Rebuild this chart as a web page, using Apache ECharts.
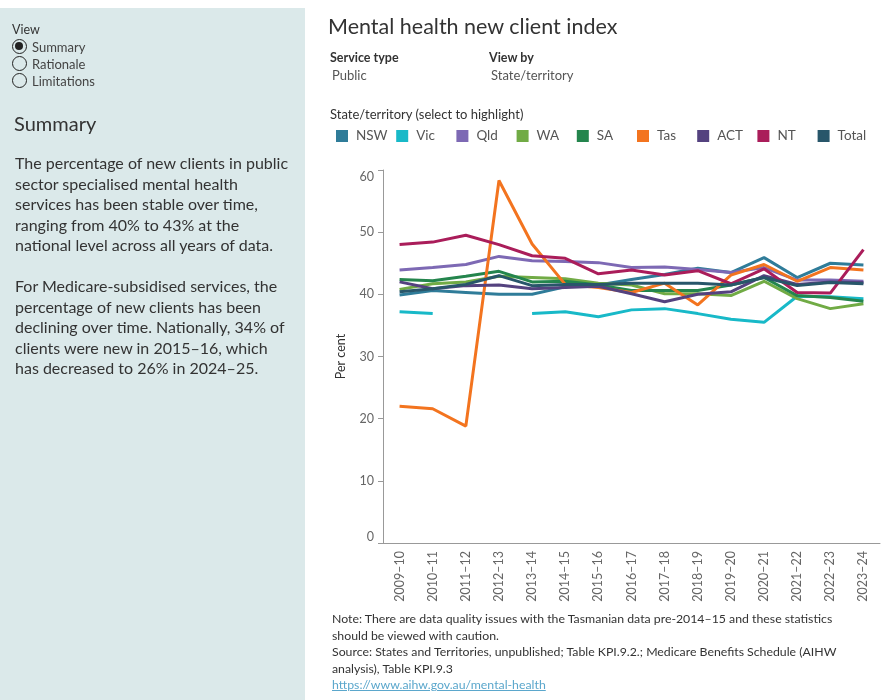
<!DOCTYPE html>
<html>
<head>
<meta charset="utf-8">
<script src="https://cdn.jsdelivr.net/npm/echarts@6/dist/echarts.min.js"></script>
<style>
  html, body { margin:0; padding:0; width:890px; height:700px; background:#fff; overflow:hidden; font-family: Lato, "Noto Sans", sans-serif; }
  #panel { position:absolute; left:0; top:8px; width:305px; height:692px; background:#DBE9EA; }
  #chart { position:absolute; left:0; top:0; width:890px; height:700px; }
  .t { position:absolute; white-space:nowrap; }
  .radio { position:absolute; left:12px; width:15px; height:15px; border:1.3px solid #222; border-radius:50%; box-sizing:border-box; }
  .radio.on::after { content:""; position:absolute; left:2.2px; top:2.2px; width:8px; height:8px; border-radius:50%; background:#222; }
  a { color:#5BA7CC; }
</style>
</head>
<body>
<div id="panel"></div>
<div id="chart"></div>

<div class="t" style="left:12px; top:22px; font-size:12.5px; color:#333;">View</div>
<div class="radio on" style="top:39px;"></div>
<div class="t" style="left:32px; top:39px; font-size:13px; color:#444;">Summary</div>
<div class="radio" style="top:56px;"></div>
<div class="t" style="left:32px; top:56px; font-size:13px; color:#444;">Rationale</div>
<div class="radio" style="top:73px;"></div>
<div class="t" style="left:32px; top:73px; font-size:13px; color:#444;">Limitations</div>
<div class="t" style="left:14px; top:111px; font-size:20px; color:#333;">Summary</div>
<div class="t" style="left:15px; top:153px; font-size:16px; line-height:20.5px; color:#333;">The percentage of new clients in public<br>sector specialised mental health<br>services has been stable over time,<br>ranging from 40% to 43% at the<br>national level across all years of data.</div>
<div class="t" style="left:15px; top:276px; font-size:16px; line-height:20.5px; color:#333;">For Medicare-subsidised services, the<br>percentage of new clients has been<br>declining over time. Nationally, 34% of<br>clients were new in 2015–16, which<br>has decreased to 26% in 2024–25.</div>

<div class="t" style="left:328px; top:13px; font-size:21.5px; color:#333;">Mental health new client index</div>
<div class="t" style="left:330px; top:50px; font-size:12.5px; font-weight:bold; color:#333;">Service type</div>
<div class="t" style="left:332px; top:67px; font-size:13px; color:#555;">Public</div>
<div class="t" style="left:489px; top:50px; font-size:12.5px; font-weight:bold; color:#333;">View by</div>
<div class="t" style="left:491px; top:67px; font-size:13px; color:#555;">State/territory</div>
<div class="t" style="left:330px; top:106px; font-size:13px; color:#333;">State/territory (select to highlight)</div>

<div class="t" style="left:332px; top:611px; font-size:12.3px; line-height:16.5px; color:#333;">Note: There are data quality issues with the Tasmanian data pre-2014–15 and these statistics<br>should be viewed with caution.<br>Source: States and Territories, unpublished; Table KPI.9.2.; Medicare Benefits Schedule (AIHW<br>analysis), Table KPI.9.3<br><a href="#">https://www.aihw.gov.au/mental-health</a></div>

<script>
const years = ['2009–10','2010–11','2011–12','2012–13','2013–14','2014–15','2015–16','2016–17','2017–18','2018–19','2019–20','2020–21','2021–22','2022–23','2023–24'];
const seriesNames = ['NSW','Vic','Qld','WA','SA','Tas','ACT','NT','Total'];
const seriesColors = ['#2F7C99','#18B9C8','#7D69B4','#71AB45','#24854D','#F3741F','#54427F','#AA1D5A','#28566A'];
const NSW   = [39.9, 40.6, 40.3, 40.0, 40.0, 41.2, 41.5, 42.4, 43.2, 44.2, 43.5, 45.9, 42.7, 45.0, 44.7];
const Vic   = [37.2, 36.9, null, null, 36.9, 37.2, 36.4, 37.5, 37.7, 36.9, 36.0, 35.5, 39.7, 39.6, 39.3];
const Qld   = [43.9, 44.3, 44.8, 46.1, 45.4, 45.3, 45.1, 44.3, 44.4, 44.0, 43.5, 44.3, 42.3, 42.3, 42.1];
const WA    = [40.8, 41.7, 42.0, 42.9, 42.7, 42.5, 41.8, 41.5, 40.1, 40.1, 39.8, 42.1, 39.3, 37.7, 38.5];
const SA    = [42.4, 42.2, 42.9, 43.7, 42.0, 42.1, 41.5, 40.6, 40.6, 40.6, 41.5, 42.7, 39.8, 39.5, 38.9];
const Tas   = [22.0, 21.6, 18.8, 58.3, 48.1, 41.6, 41.1, 40.3, 41.8, 38.3, 43.1, 44.8, 42.1, 44.3, 43.9];
const ACT   = [42.0, 40.9, 41.4, 41.5, 40.9, 41.1, 41.3, 40.1, 38.8, 40.0, 40.4, 43.0, 41.6, 42.0, 41.9];
const NT    = [48.0, 48.4, 49.5, 48.0, 46.2, 45.8, 43.3, 43.9, 43.1, 43.8, 41.7, 44.1, 40.3, 40.2, 47.2];
const Total = [40.4, 40.9, 41.6, 43.0, 41.4, 41.6, 41.6, 41.8, 41.8, 41.8, 41.5, 42.7, 41.4, 41.9, 41.7];
const yTicks = [0, 10, 20, 30, 40, 50, 60];

const dataBySeries = [NSW, Vic, Qld, WA, SA, Tas, ACT, NT, Total];

const font = 'Lato, "Noto Sans", sans-serif';
const chart = echarts.init(document.getElementById('chart'), null, {renderer:'canvas'});
chart.setOption({
  backgroundColor: 'transparent',
  animation: false,
  textStyle: { fontFamily: font },
  legend: seriesNames.map((n, i) => ({
    left: 331 + 60.2 * i, top: 124,
    itemWidth: 12, itemHeight: 12,
    icon: 'rect',
    data: [n],
    textStyle: { color: '#555', fontSize: 13.5, padding: [0,0,0,3], fontFamily: font },
    selectedMode: false
  })),
  grid: { left: 383, right: 10, top: 170, bottom: 157 },
  xAxis: {
    type: 'category',
    data: years,
    boundaryGap: true,
    axisLine: { show: true, lineStyle: { color: '#999', width: 1 } },
    axisTick: { show: false },
    axisLabel: { rotate: 90, color: '#666', fontSize: 12.5, margin: 8, interval: 0 }
  },
  yAxis: {
    type: 'value',
    min: yTicks[0], max: yTicks[yTicks.length-1], interval: 10,
    name: 'Per cent', nameLocation: 'middle', nameRotate: 90, nameGap: 36,
    nameTextStyle: { color: '#333', fontSize: 12.5 },
    axisLine: { show: true, lineStyle: { color: '#999', width: 1 } },
    axisTick: { show: true, length: 5, lineStyle: { color: '#999' } },
    splitLine: { show: false },
    axisLabel: { color: '#666', fontSize: 12.5, margin: 9, verticalAlignMinLabel: 'bottom', verticalAlignMaxLabel: 'top' }
  },
  series: seriesNames.map((n, i) => ({
    name: n,
    type: 'line',
    data: dataBySeries[i],
    connectNulls: false,
    symbol: 'none',
    lineStyle: { width: 3, color: seriesColors[i] },
    itemStyle: { color: seriesColors[i] },
    z: 2
  }))
});
</script>
</body>
</html>
